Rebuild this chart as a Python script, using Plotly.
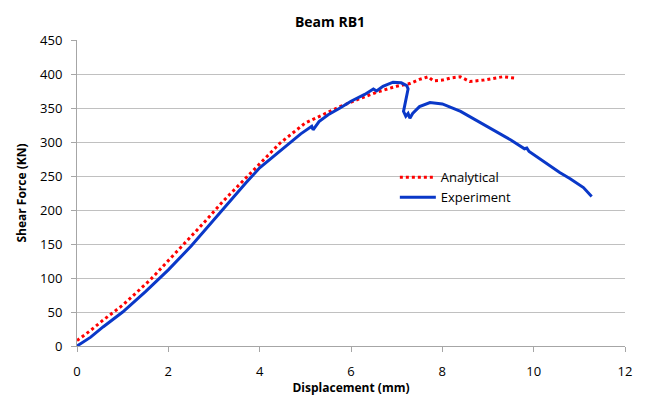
import plotly.graph_objects as go

# Analytical (red dotted)
ana_x = [0, 0.3, 0.57, 1.0, 1.6, 2.18, 2.76, 3.2, 3.64, 4.0, 4.44, 5.0, 5.76, 6.2, 6.6, 7.0, 7.29,
         7.5, 7.69, 7.8, 8.0, 8.17, 8.39, 8.6, 8.9, 9.33, 9.59]
ana_y = [8, 23, 38, 60, 97, 138, 180, 213, 243, 268, 298, 328, 352, 364, 374, 382, 386,
         392, 396, 390, 391, 394, 396, 389, 391, 396, 394]

# Experiment (blue solid)
exp_x = [0, 0.3, 0.57, 1.0, 1.5, 2.0, 2.5, 3.0, 3.5, 3.7, 4.0, 4.5, 4.9, 5.14, 5.17, 5.3, 5.5,
         5.76, 6.0, 6.3, 6.49, 6.56, 6.7, 6.92, 7.1, 7.22, 7.25, 7.15, 7.2, 7.25, 7.29, 7.35,
         7.5, 7.73, 8.0, 8.4, 8.79, 9.04, 9.5, 9.8, 9.85, 9.9, 10.2, 10.57, 10.8, 11.09, 11.27]
exp_y = [0, 13, 28, 50, 80, 112, 147, 186, 225, 240, 262, 290, 312, 323, 318, 330, 340,
         350, 360, 370, 378, 375, 382, 388, 387, 383, 378, 345, 338, 342, 335, 342,
         352, 358, 356, 345, 330, 321, 303, 290, 291, 286, 272, 255, 246, 233, 220]

x_ticks = [0, 2, 4, 6, 8, 10, 12]
y_ticks = [0, 50, 100, 150, 200, 250, 300, 350, 400, 450]

font = "Open Sans"

fig = go.Figure()
fig.add_trace(go.Scatter(x=ana_x, y=ana_y, mode="lines", name="Analytical",
                         line=dict(color="#ff0000", width=3, dash="3px,3px")))
fig.add_trace(go.Scatter(x=exp_x, y=exp_y, mode="lines", name="Experiment",
                         line=dict(color="#0a38c8", width=3)))

fig.update_layout(
    width=646, height=396,
    margin=dict(l=77, r=21, t=40, b=50),
    paper_bgcolor="white", plot_bgcolor="white",
    font=dict(family=font, size=13, color="#000000"),
    title=dict(text="<b>Beam RB1</b>", x=330/646, xanchor="center", y=1 - 22/396, yanchor="middle",
               font=dict(family=font, size=14)),
    legend=dict(x=0.58, y=0.60, xanchor="left", yanchor="top", bgcolor="rgba(0,0,0,0)",
                font=dict(family=font, size=13), tracegroupgap=0, itemwidth=36),
    showlegend=True,
)
fig.update_xaxes(range=[0, 12], tickvals=x_ticks, showgrid=False, zeroline=False,
                 showline=True, linecolor="#a6a6a6", linewidth=1, automargin=False,
                 ticks="outside", ticklen=5, tickcolor="#a6a6a6", ticklabelstandoff=8,
                 title=dict(text="<b>Displacement (mm)</b>", font=dict(family=font, size=12), standoff=2))
fig.update_yaxes(range=[0, 450], tickvals=y_ticks, showgrid=True, gridcolor="#c0c0c0", gridwidth=1,
                 zeroline=False, showline=True, linecolor="#a6a6a6", linewidth=1, automargin=False,
                 ticks="outside", ticklen=5, tickcolor="#a6a6a6", ticklabelstandoff=6,
                 title=dict(text="<b>Shear Force (KN)</b>", font=dict(family=font, size=12), standoff=10))

fig.write_html("out.html")
